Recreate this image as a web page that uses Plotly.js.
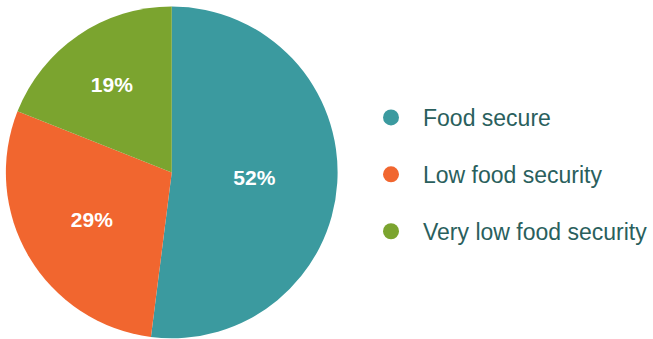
<!DOCTYPE html>
<html><head><meta charset="utf-8">
<script src="https://cdn.plot.ly/plotly-3.0.1.min.js"></script>
<style>html,body{margin:0;padding:0;background:#fff}#chart{width:653px;height:339px}</style>
</head><body><div id="chart"></div>
<script>
const categories = ["Food secure", "Low food security", "Very low food security"];
const shares = [52, 29, 19];
const colors = ["#3b9a9f", "#f1662f", "#7ba42f"];

const pie = {
  type: "pie",
  labels: categories,
  values: shares,
  sort: false,
  direction: "clockwise",
  rotation: 0,
  marker: {colors: colors, line: {width: 0}},
  texttemplate: "%{value}%",
  textposition: "inside",
  insidetextorientation: "horizontal",
  textfont: {family: "Liberation Sans, Arial, sans-serif", size: 21, color: "#ffffff", weight: "bold"},
  hoverinfo: "label+percent",
  showlegend: false,
  domain: {x: [6/653, 345/653], y: [0, 0.983]}
};

const legendTraces = categories.map((c, i) => ({
  type: "scatter", mode: "markers", x: [null], y: [null], name: c,
  legendgroup: "g" + i,
  marker: {symbol: "circle", size: 18, color: colors[i]},
  showlegend: true, hoverinfo: "skip"
}));

const layout = {
  width: 653, height: 339,
  margin: {l: 0, r: 0, t: 0, b: 0},
  paper_bgcolor: "#ffffff", plot_bgcolor: "rgba(0,0,0,0)",
  xaxis: {visible: false, domain: [0.99, 1]},
  yaxis: {visible: false, domain: [0.99, 1]},
  showlegend: true,
  legend: {
    x: 367/653, xanchor: "left", y: 0.5 - 5/339, yanchor: "middle",
    font: {family: "Liberation Sans, Arial, sans-serif", size: 23, color: "#2a5f5d"},
    tracegroupgap: 24, itemwidth: 54, bgcolor: "rgba(0,0,0,0)"
  }
};

Plotly.newPlot("chart", [pie, ...legendTraces], layout, {displayModeBar: false, staticPlot: true});
</script></body></html>
